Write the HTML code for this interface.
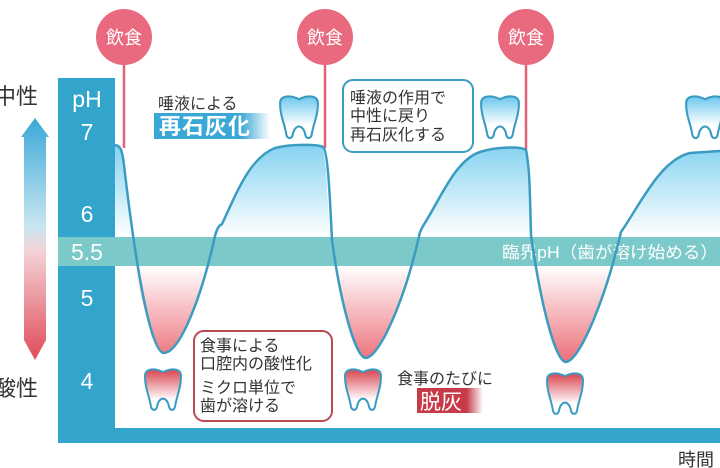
<!DOCTYPE html>
<html><head><meta charset="utf-8"><style>
html,body{margin:0;padding:0;background:#fff;width:720px;height:468px;overflow:hidden}
svg{display:block}
text{font-family:"Liberation Sans","Noto Sans CJK JP",sans-serif}
</style></head><body>
<svg width="720" height="468" viewBox="0 0 720 468" xmlns="http://www.w3.org/2000/svg">
<defs>
<linearGradient id="arr" x1="0" y1="0" x2="0" y2="1">
<stop offset="0" stop-color="#3aa8d6"/><stop offset="0.45" stop-color="#c9e6f0"/><stop offset="0.55" stop-color="#f3d3d6"/><stop offset="1" stop-color="#e04a58"/></linearGradient>
<linearGradient id="bl" x1="0" y1="140" x2="0" y2="237" gradientUnits="userSpaceOnUse">
<stop offset="0" stop-color="#7fd0f0"/><stop offset="1" stop-color="#ffffff"/></linearGradient>
<linearGradient id="rd" x1="0" y1="266" x2="0" y2="362" gradientUnits="userSpaceOnUse">
<stop offset="0" stop-color="#ffffff"/><stop offset="1" stop-color="#ec6f79"/></linearGradient>
<linearGradient id="tb" x1="0" y1="0" x2="0" y2="1"><stop offset="0" stop-color="#6cc7ee"/><stop offset="0.7" stop-color="#ffffff"/></linearGradient>
<linearGradient id="tr" x1="0" y1="0" x2="0" y2="1"><stop offset="0" stop-color="#d9434f"/><stop offset="0.75" stop-color="#ffffff"/></linearGradient>
<linearGradient id="lab1" x1="0" y1="0" x2="1" y2="0"><stop offset="0.75" stop-color="#3aa8d6"/><stop offset="1" stop-color="#3aa8d6" stop-opacity="0"/></linearGradient>
<linearGradient id="lab2" x1="0" y1="0" x2="1" y2="0"><stop offset="0.75" stop-color="#c73a48"/><stop offset="1" stop-color="#c73a48" stop-opacity="0"/></linearGradient>
<clipPath id="top"><rect x="115" y="0" width="605" height="237"/></clipPath>
<clipPath id="bot"><rect x="115" y="266" width="605" height="164"/></clipPath>
<path id="tooth" d="M2,8 C2,0 12,0 20,4 C28,0 38,0 38,8 C38,20 34,26 32,38 C31,42 27,42 26,38 C25,32 22,30 20,30 C18,30 15,32 14,38 C13,42 9,42 8,38 C6,26 2,20 2,8Z"/>
</defs>

<path clip-path="url(#top)" fill="url(#bl)" d="M115,145 C121,146 122,150 124,165 C135,260 150,353 164,353 C180,352 200,300 213,245 C216,230 218,226 222,224 C238,190 250,158 275,148 C290,144 318,144 323,147 L326,170 L330,240 L420,240 L422,228 C440,200 455,160 480,152 C495,147 520,146 526,150 L529,200 L531,240 L621,240 C640,205 660,160 690,153 L720,151 L720,266 L115,266Z"/>
<path clip-path="url(#bot)" fill="url(#rd)" d="M115,230 L124,230 C135,260 150,353 164,353 C180,352 200,300 213,245 L330,240 C340,300 355,358 366,358 C380,356 405,300 420,230 L531,230 C540,300 555,362 566,362 C580,360 605,300 621,232 L621,230 Z"/>

<rect x="58" y="237" width="662" height="29" fill="#7cc9c9"/>
<text x="502" y="258" font-size="16.5" fill="#fff" textLength="216" lengthAdjust="spacingAndGlyphs">臨界pH（歯が溶け始める）</text>

<g stroke="#e26278" stroke-width="2.5">
<line x1="124" y1="60" x2="124" y2="148"/><line x1="325" y1="60" x2="325" y2="148"/><line x1="526" y1="60" x2="526" y2="150"/></g>
<g fill="#e96a7e">
<circle cx="124" cy="37" r="28"/><circle cx="325" cy="37" r="28"/><circle cx="526" cy="37" r="28"/></g>
<g fill="#fff" font-size="18" text-anchor="middle">
<text x="124" y="44">飲食</text><text x="325" y="44">飲食</text><text x="526" y="44">飲食</text></g>

<path fill="none" stroke="#3a9cc0" stroke-width="2.5" d="M115,145 C121,146 122,150 124,165 C135,260 150,353 164,353 C180,352 200,300 213,245 C216,230 218,226 222,224 C238,190 250,158 275,148 C290,144 318,144 323,147 C328,150 330,200 332,240 C340,300 355,358 366,358 C380,356 405,300 420,232 C422,228 421,230 423,226 C440,200 455,160 480,152 C495,147 520,146 526,150 C530,170 530,200 531,235 C540,300 555,362 566,362 C580,360 605,300 621,232 C640,205 660,160 690,153 L720,151"/>

<rect x="58" y="78" width="57" height="365" fill="#33a4cc"/>
<rect x="58" y="428" width="662" height="15" fill="#33a4cc"/>
<rect x="58" y="237" width="57" height="29" fill="#7cc9c9"/>
<g fill="#fff" font-size="23" text-anchor="middle">
<text x="87" y="107">pH</text><text x="87" y="140">7</text><text x="87" y="222">6</text><text x="87" y="260">5.5</text><text x="87" y="306">5</text><text x="87" y="389">4</text></g>

<path d="M35,118 L49,137 L46,137 L46,340 L35,360 L24,340 L24,137 L21,137Z" fill="url(#arr)"/>
<text x="-6" y="104" font-size="22" fill="#333">中性</text>
<text x="-6" y="396" font-size="22" fill="#333">酸性</text>

<g fill="url(#tb)" stroke="#3a9cc0" stroke-width="2">
<use href="#tooth" transform="translate(278,95) scale(1.05)"/>
<use href="#tooth" transform="translate(479,95) scale(1.05)"/>
<use href="#tooth" transform="translate(684,95) scale(1.05)"/></g>
<g fill="url(#tr)" stroke="#3a9cc0" stroke-width="2">
<use href="#tooth" transform="translate(143,368) scale(1.0,1.02)"/>
<use href="#tooth" transform="translate(343,368) scale(1.0,1.02)"/>
<use href="#tooth" transform="translate(545,372) scale(1.0,1.02)"/></g>

<text x="158" y="109" font-size="16" fill="#333">唾液による</text>
<rect x="154" y="113" width="116" height="26" fill="url(#lab1)"/>
<text x="159" y="134" font-size="22" fill="#fff" font-weight="bold" letter-spacing="1">再石灰化</text>

<rect x="343" y="80" width="130" height="72" rx="10" fill="#fff" stroke="#3a9cc0" stroke-width="2"/>
<g font-size="16" fill="#333"><text x="350" y="103">唾液の作用で</text><text x="350" y="121">中性に戻り</text><text x="350" y="140">再石灰化する</text></g>

<rect x="194" y="331" width="138" height="90" rx="10" fill="#fff" stroke="#b84a55" stroke-width="2"/>
<g font-size="16" fill="#333"><text x="200" y="351">食事による</text><text x="200" y="369">口腔内の酸性化</text><text x="200" y="393">ミクロ単位で</text><text x="200" y="411">歯が溶ける</text></g>

<text x="397" y="384" font-size="16" fill="#333">食事のたびに</text>
<rect x="417" y="388" width="66" height="25" fill="url(#lab2)"/>
<text x="420" y="409" font-size="21" fill="#fff">脱灰</text>

<text x="678" y="466" font-size="18" fill="#333">時間</text>
</svg>
</body></html>
